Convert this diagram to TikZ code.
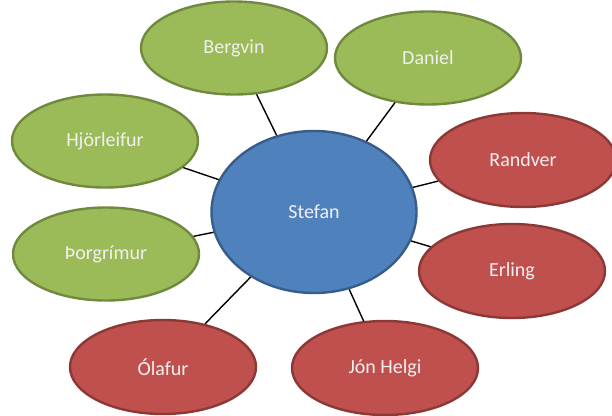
\documentclass[tikz,border=0pt]{standalone}
\usepackage{fontspec}
\setmainfont{Carlito}
\usetikzlibrary{shapes.geometric}
\definecolor{leafgreen}{HTML}{9BBB59}
\definecolor{leafgreenline}{HTML}{71893F}
\definecolor{hubblue}{HTML}{4F81BD}
\definecolor{hubblueline}{HTML}{385D8A}
\definecolor{leafred}{HTML}{C0504D}
\definecolor{leafredline}{HTML}{8C3836}
\begin{document}
\begin{tikzpicture}[x=1pt, y=-1pt,
    person/.style={ellipse, inner sep=0pt, line width=2.4pt, text=white!94!black, font=\fontsize{20}{24}\selectfont},
    greenleaf/.style={person, fill=leafgreen, draw=leafgreenline, minimum width=186pt, minimum height=93pt},
    redleaf/.style={person, fill=leafred, draw=leafredline, minimum width=186pt, minimum height=94pt},
    link/.style={line width=1.4pt, black}]

    \useasboundingbox (0,0) rectangle (612,415);

    \node[person, fill=hubblue, draw=hubblueline, minimum width=205pt, minimum height=162pt] (s) at (314,212) {Stefan};

    \foreach \n/\x/\y/\c/\t in {b/234/48/greenleaf/Bergvin, d/428/58/greenleaf/Daniel,
        h/105/141/greenleaf/Hjörleifur, t/106/254/greenleaf/Þorgrímur,
        r/523/160/redleaf/Randver, e/512/271/redleaf/Erling,
        o/163/367/redleaf/Ólafur, j/385/368/redleaf/Jón Helgi}{
    \node[\c] (\n) at (\x,\y) {\t};
}

\foreach \n in {b,d,h,t,r,e,o,j}{
    \draw[link] (s) -- (\n);
}

\end{tikzpicture}
\end{document}
